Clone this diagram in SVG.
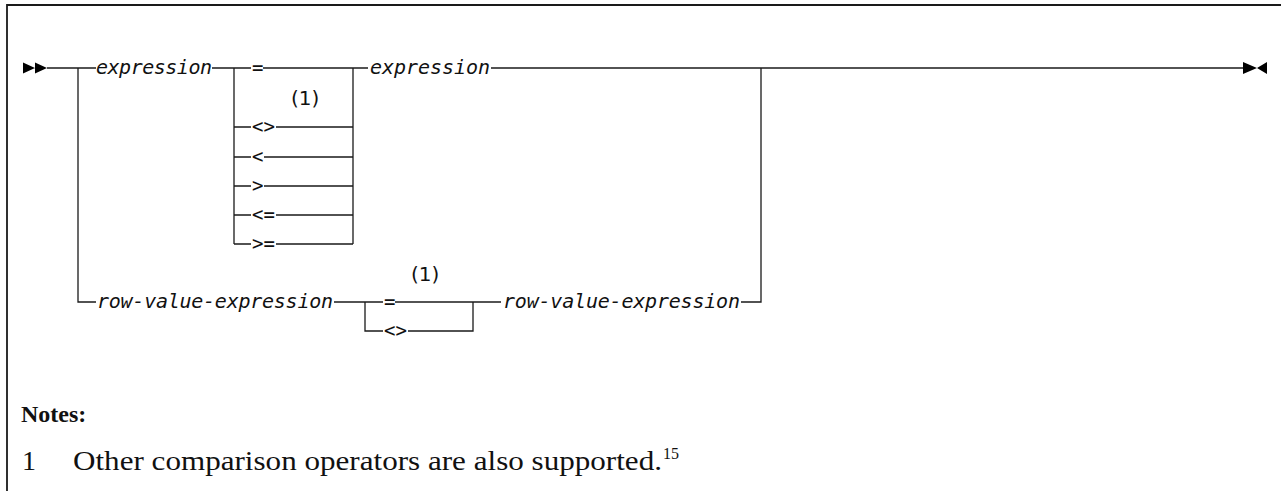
<svg xmlns="http://www.w3.org/2000/svg" width="1281" height="491" viewBox="0 0 1281 491">
<style>
.ln{stroke:#1a1a1a;stroke-width:1.3;fill:none}
.arr{fill:#000}
.it{font-family:"DejaVu Sans Mono",monospace;font-style:italic;font-size:20px;fill:#111}
.op{font-family:"DejaVu Sans Mono",monospace;font-size:19px;fill:#111}
.fn{font-family:"DejaVu Sans",sans-serif;font-size:20px;fill:#111}
.nb{font-family:"Liberation Serif",serif;font-weight:bold;font-size:24px;fill:#111}
.nt{font-family:"Liberation Serif",serif;font-size:28px;fill:#111}
.sup{font-family:"Liberation Serif",serif;font-size:16px;fill:#111}
</style>
<rect width="1281" height="491" fill="#fff"/>
<g id="frame" class="ln"><path d="M7,491 V5 H1281" stroke-width="1.8"/></g>
<g id="connectors" class="ln">
<path d="M47,68 H96"/>
<path d="M78,68 V302 H96"/>
<path d="M212,68 H251"/>
<path d="M234,68 V244"/>
<path d="M234,127 H251 M234,157 H251 M234,186 H251 M234,215 H251 M234,244 H251"/>
<path d="M263,68 H368"/>
<path d="M276,127 H353 M264,157 H353 M264,186 H353 M276,215 H353 M276,244 H353"/>
<path d="M353,68 V244"/>
<path d="M491,68 H1243"/>
<path d="M761,68 V302 H741"/>
<path d="M334,302 H383"/>
<path d="M365,302 V331 H383"/>
<path d="M395,302 H501"/>
<path d="M408,331 H473 V302"/>
<g class="arr" stroke="none">
<path d="M23,62.5 L35,68 L23,73.5 Z M35,62.5 L47,68 L35,73.5 Z"/>
<path d="M1243,62 L1257,68 L1243,74 Z M1267,62 L1257,68 L1267,74 Z"/>
</g>
</g>
<g id="n-expr1"><text class="it" x="96" y="74" textLength="116">expression</text></g>
<g id="n-ops">
<text class="op" x="252" y="74" textLength="10">=</text>
<text class="fn" x="291" y="105">(1)</text>
<text class="op" x="252" y="133" textLength="23">&lt;&gt;</text>
<text class="op" x="252" y="163" textLength="11">&lt;</text>
<text class="op" x="252" y="192" textLength="11">&gt;</text>
<text class="op" x="252" y="221" textLength="23">&lt;=</text>
<text class="op" x="252" y="250" textLength="23">&gt;=</text>
</g>
<g id="n-expr2"><text class="it" x="370" y="74" textLength="120">expression</text></g>
<g id="n-rve1"><text class="it" x="97" y="308" textLength="236">row-value-expression</text></g>
<g id="n-ops2">
<text class="fn" x="411" y="281">(1)</text>
<text class="op" x="384" y="308" textLength="10">=</text>
<text class="op" x="384" y="337" textLength="23">&lt;&gt;</text>
</g>
<g id="n-rve2"><text class="it" x="503" y="308" textLength="237">row-value-expression</text></g>
<g id="notes">
<text class="nb" x="21" y="422">Notes:</text>
<text class="nt" x="22" y="470">1</text>
<text class="nt" x="73" y="470" textLength="589" lengthAdjust="spacingAndGlyphs">Other comparison operators are also supported.</text>
<text class="sup" x="663" y="459">15</text>
</g>
</svg>
